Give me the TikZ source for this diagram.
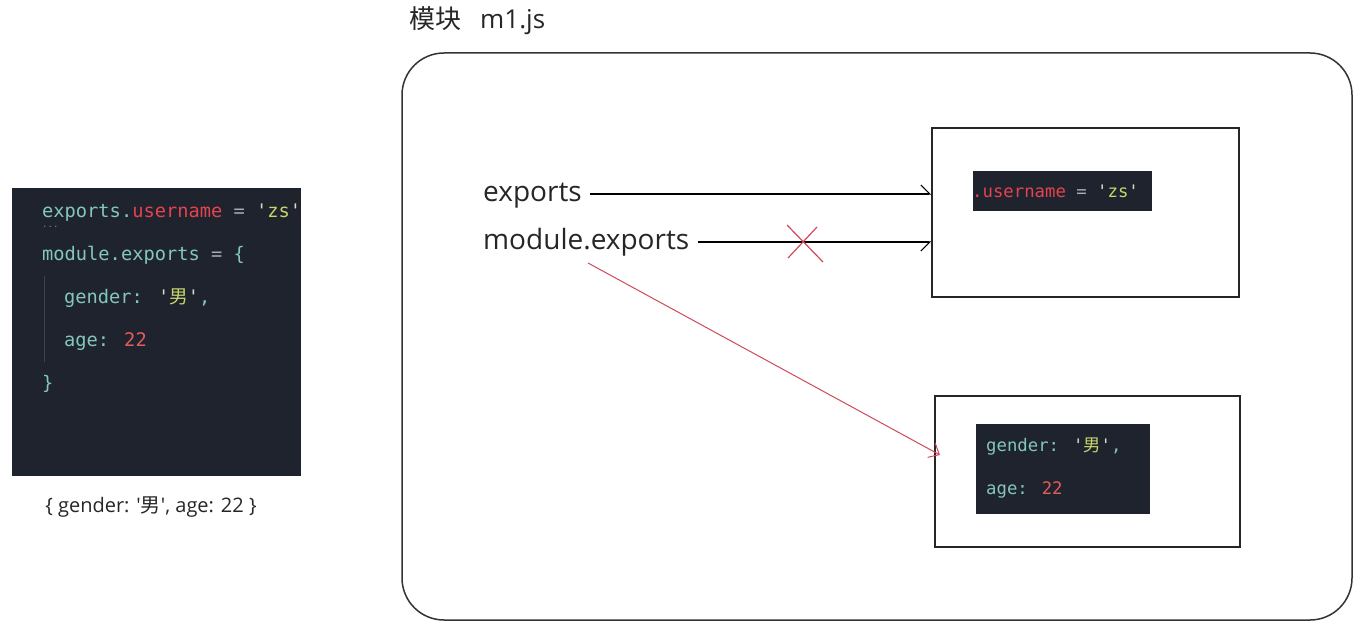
\documentclass[tikz,border=0pt]{standalone}
\usepackage{fontspec}
\setmainfont{Open Sans}
\newfontfamily\cjk{Noto Sans CJK SC}
\newfontfamily\codefont{DejaVu Sans Mono}
\usetikzlibrary{arrows.meta}
\definecolor{codebg}{HTML}{1E232D}
\definecolor{cteal}{HTML}{84C6BE}
\definecolor{cred}{HTML}{E5434F}
\definecolor{cstr}{HTML}{C9D66E}
\definecolor{ceq}{HTML}{A4ACB4}
\definecolor{cquote}{HTML}{DADAC8}
\definecolor{cnum}{HTML}{E35B5B}
\definecolor{cguide}{HTML}{3C4352}
\definecolor{frame}{HTML}{333333}
\definecolor{redline}{HTML}{D0485A}
\begin{document}
\begin{tikzpicture}[x=1pt,y=-1pt,
  panel/.style={fill=codebg, draw=none, inner sep=0pt},
  code/.style={font=\codefont\fontsize{18.7}{18.7}\selectfont, color=cteal, inner sep=0pt, anchor=west, text height=10.2pt, text depth=0pt},
  smallcode/.style={font=\codefont\fontsize{17.3}{17.3}\selectfont, color=cteal, inner sep=0pt, anchor=west, text height=9.4pt, text depth=0pt},
  label/.style={font=\fontsize{28}{28}\selectfont, color=black!85, inner sep=0pt, anchor=west, text height=15pt, text depth=0pt},
  objbox/.style={draw=black!85, line width=1.6pt, inner sep=0pt},
  arrowline/.style={draw=black, line width=1.3pt},
  uparrow/.style={arrowline, -{Straight Barb[left, length=9pt, width=18pt, line width=1.1pt]}},
  downarrow/.style={arrowline, -{Straight Barb[right, length=9pt, width=18pt, line width=1.1pt]}},
  redarrow/.style={draw=redline, line width=1pt, -{Straight Barb[length=9pt, width=16pt, line width=1pt]}},
  cross/.style={draw=redline, line width=1.2pt}
]
\useasboundingbox (0,0) rectangle (1363,628);

% ---------- left code panel ----------
\node[panel, minimum width=289pt, minimum height=288pt] (leftpanel) at (156.5,332) {};
\node[code] (l1) at (42,212) {exports.\textcolor{cred}{username} \textcolor{ceq}{=} \textcolor{cquote}{'}\textcolor{cstr}{zs}\textcolor{cquote}{'}};
\node[font=\codefont\fontsize{9}{9}\selectfont, color=gray, inner sep=0pt, anchor=west] (dots) at (42,227) {...};
\node[code] (l2) at (42,255) {module.exports \textcolor{ceq}{=} \{};
\draw[cguide, line width=1pt] (44,276) -- (44,362);
\node[code] (l3) at (64,298) {gender: \textcolor{cquote}{'}\textcolor{cstr}{{\cjk 男}}\textcolor{cquote}{'},};
\node[code] (l4) at (64,341) {age: \textcolor{cnum}{22}};
\node[code] (l5) at (42,384) {\}};

\node[font=\fontsize{20}{20}\selectfont, color=black!85, inner sep=0pt] (result) at (151,507) {\{ gender: \textquotesingle{\cjk 男}\textquotesingle, age: 22 \}};

% ---------- module frame ----------
\node[font=\fontsize{26}{26}\selectfont, color=black!85, inner sep=0pt, anchor=west] (title) at (409,21) {{\cjk 模块}\hspace{19pt}m1.js};
\node[draw=frame, line width=1.5pt, rounded corners=42pt, minimum width=950pt, minimum height=567pt, inner sep=0pt] (module) at (877,336.5) {};

% object 1
\node[objbox, minimum width=307pt, minimum height=169pt] (box1) at (1085.5,212.5) {};
\node[panel, minimum width=179pt, minimum height=40pt] (obj1) at (1062.5,191) {};
\node[smallcode] (o1) at (972,193) {\textcolor{cred}{.username} \textcolor{ceq}{=} \textcolor{cquote}{'}\textcolor{cstr}{zs}\textcolor{cquote}{'}};

% object 2
\node[objbox, minimum width=305pt, minimum height=151pt] (box2) at (1087.5,471.5) {};
\node[panel, minimum width=174pt, minimum height=90pt] (obj2) at (1063,469) {};
\node[smallcode] (o2a) at (986,447) {gender: \textcolor{cquote}{'}\textcolor{cstr}{{\cjk 男}}\textcolor{cquote}{'},};
\node[smallcode] (o2b) at (986,490) {age: \textcolor{cnum}{22}};

% labels
\node[label] (exp) at (483,194) {exports};
\node[label] (modexp) at (483,242) {module.exports};

% arrows
\draw[uparrow] ([xshift=8pt]exp.east) -- (exp.east -| box1.west);
\draw[downarrow] ([xshift=8pt]modexp.east) -- (modexp.east -| box1.west);

% cross
\coordinate (xa) at (787,225);
\coordinate (xb) at (823,262);
\coordinate (xc) at (817,227);
\coordinate (xd) at (788,258);
\draw[cross] (xa) -- (xb);
\draw[cross] (xc) -- (xd);

% red arrow
\coordinate (redstart) at (588,263);
\coordinate (redend) at (940,455);
\draw[redarrow] (redstart) -- (redend);
\end{tikzpicture}
\end{document}
